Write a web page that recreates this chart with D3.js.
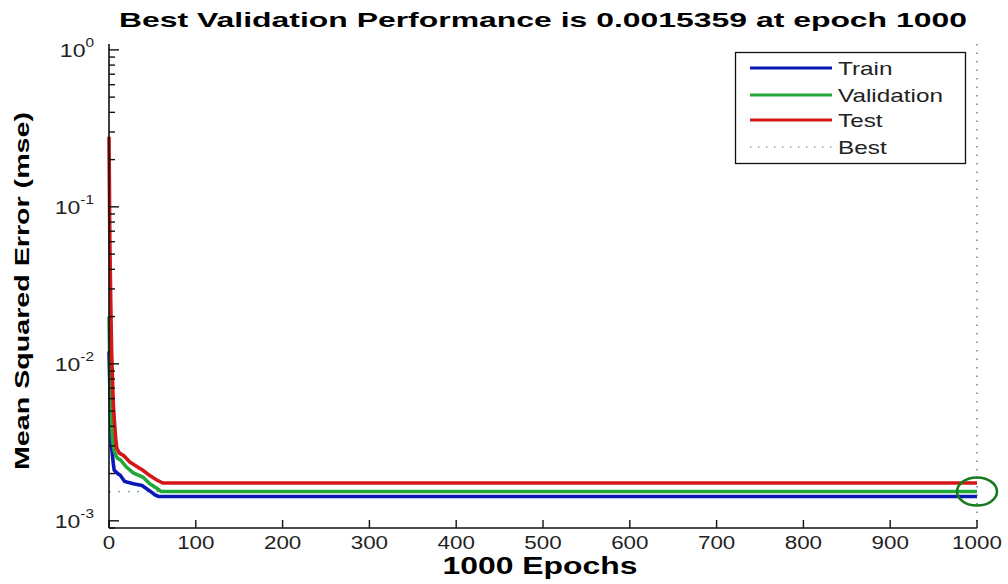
<!DOCTYPE html>
<html><head><meta charset="utf-8">
<script src="https://cdn.jsdelivr.net/npm/d3@7"></script>
<style>
body{margin:0;background:#fff}
svg{display:block}
text{font-family:"Liberation Sans",Arial,sans-serif;fill:#111}
</style>
</head><body>
<svg id="chart" width="1008" height="584"></svg>
<script>
// Labels
const titleText = "Best Validation Performance is 0.0015359 at epoch 1000";
const xLabelText = "1000 Epochs";
const yLabelText = "Mean Squared Error  (mse)";

// Series: epoch -> mean squared error
const seriesNames = ["Train", "Validation", "Test"];
const seriesColors = ["#0a18b8", "#22a83a", "#d41616"];

const trainEpochs = [0, 1, 2, 3, 4, 5, 6, 8, 10, 13, 18, 28, 38, 47, 53, 57, 1000];
const trainMse = [0.012, 0.007, 0.0042, 0.003, 0.0026, 0.0023, 0.0021, 0.00205, 0.002, 0.00195, 0.00178, 0.00172, 0.00168, 0.00155, 0.00146, 0.00143, 0.00143];

const valEpochs = [0, 1, 2, 3, 4, 5, 6, 8, 10, 13, 20, 28, 39, 47, 55, 60, 1000];
const valMse = [0.02, 0.01, 0.006, 0.0041, 0.0033, 0.003, 0.0028, 0.0026, 0.0025, 0.00245, 0.0022, 0.00202, 0.0019, 0.00172, 0.00161, 0.0015359, 0.0015359];

const testEpochs = [0, 1, 2, 3, 4, 5, 6, 7, 8, 9, 12, 17, 24, 32, 39, 47, 55, 62, 1000];
const testMse = [0.28, 0.06, 0.025, 0.012, 0.008, 0.0055, 0.0045, 0.0038, 0.0032, 0.0029, 0.0027, 0.0026, 0.00237, 0.00222, 0.0021, 0.00194, 0.00182, 0.00174, 0.00174];

const bestEpoch = 1000;
const bestPerf = 0.0015359;

// Axes
const xTicks = [0, 100, 200, 300, 400, 500, 600, 700, 800, 900, 1000];
const yDecadeExponents = [-3, -2, -1, 0];
const xDomain = [0, 1000];
const yDomain = [9e-4, 1.09];

const svg = d3.select("#chart");
const plot = {left: 109, right: 977, top: 44, bottom: 528};

const x = d3.scaleLinear().domain(xDomain).range([plot.left, plot.right]);
const y = d3.scaleLog().domain(yDomain).range([plot.bottom, plot.top]);

const TX = 1.28; // horizontal widening of glyphs

// ---- best markers (drawn under the series) ----
svg.append("line")
  .attr("x1", x(xDomain[0])).attr("x2", x(xDomain[1]))
  .attr("y1", y(bestPerf)).attr("y2", y(bestPerf))
  .attr("stroke", "#4a8a80").attr("stroke-width", 1.2)
  .attr("stroke-dasharray", "1.5,8");

// ---- series ----
const line = d3.line().x(d => x(d[0])).y(d => y(d[1]));
const series = [
  d3.zip(trainEpochs, trainMse),
  d3.zip(valEpochs, valMse),
  d3.zip(testEpochs, testMse)
];
series.forEach((s, i) => {
  svg.append("path").datum(s)
    .attr("d", line)
    .attr("fill", "none")
    .attr("stroke", seriesColors[i])
    .attr("stroke-width", 3.6)
    .attr("stroke-linejoin", "miter");
});

svg.append("line")
  .attr("x1", x(bestEpoch)).attr("x2", x(bestEpoch))
  .attr("y1", y(yDomain[1])).attr("y2", y(yDomain[0]))
  .attr("stroke", "#5a6a70").attr("stroke-width", 1.3)
  .attr("stroke-dasharray", "1.5,7");

svg.append("ellipse")
  .attr("cx", x(bestEpoch)).attr("cy", y(bestPerf))
  .attr("rx", 20).attr("ry", 14)
  .attr("fill", "none").attr("stroke", "#167a1e").attr("stroke-width", 2.6);

// ---- axes ----
const axisColor = "#111";
svg.append("line")
  .attr("x1", plot.left).attr("x2", plot.left)
  .attr("y1", plot.top).attr("y2", plot.bottom)
  .attr("stroke", axisColor).attr("stroke-width", 1.6);
svg.append("line")
  .attr("x1", plot.left).attr("x2", plot.right)
  .attr("y1", plot.bottom).attr("y2", plot.bottom)
  .attr("stroke", axisColor).attr("stroke-width", 1.6);

// x ticks (inward) and labels
xTicks.forEach(t => {
  svg.append("line")
    .attr("x1", x(t)).attr("x2", x(t))
    .attr("y1", plot.bottom).attr("y2", plot.bottom - 8)
    .attr("stroke", axisColor).attr("stroke-width", 1.4);
  svg.append("text")
    .attr("transform", `translate(${x(t)},549) scale(${TX},1)`)
    .attr("text-anchor", "middle")
    .style("font-size", "17.5px").style("fill", "#222")
    .text(t);
});

// y ticks: decades (major) and 2..9 (minor)
const [lo, hi] = yDomain;
for (let e = -4; e <= 0; e++) {
  for (let m = 1; m <= 9; m++) {
    const v = m * Math.pow(10, e);
    if (v < lo || v > hi) continue;
    svg.append("line")
      .attr("x1", plot.left).attr("x2", plot.left + (m === 1 ? 10 : 6))
      .attr("y1", y(v)).attr("y2", y(v))
      .attr("stroke", axisColor).attr("stroke-width", 1.4);
  }
}
yDecadeExponents.forEach(e => {
  const t = svg.append("text")
    .attr("transform", `translate(94,${y(Math.pow(10, e)) + 7}) scale(${TX},1)`)
    .attr("text-anchor", "end")
    .style("font-size", "18px").style("fill", "#222");
  t.append("tspan").text("10");
  t.append("tspan").attr("dy", -10).style("font-size", "12px").text(e === 0 ? "0" : "-" + (-e));
});

// ---- titles ----
svg.append("text")
  .attr("x", (plot.left + plot.right) / 2).attr("y", 27)
  .attr("text-anchor", "middle")
  .attr("textLength", 848).attr("lengthAdjust", "spacingAndGlyphs")
  .style("font-size", "21px").style("font-weight", "bold").style("fill", "#000")
  .text(titleText);

svg.append("text")
  .attr("x", 540).attr("y", 574)
  .attr("text-anchor", "middle")
  .attr("textLength", 195).attr("lengthAdjust", "spacingAndGlyphs")
  .style("font-size", "23px").style("font-weight", "bold").style("fill", "#000")
  .text(xLabelText);

svg.append("text")
  .attr("transform", "translate(29,291) rotate(-90)")
  .attr("text-anchor", "middle")
  .attr("textLength", 358).attr("lengthAdjust", "spacingAndGlyphs")
  .style("font-size", "21px").style("font-weight", "bold").style("fill", "#000")
  .text(yLabelText);

// ---- legend ----
const legend = svg.append("g");
legend.append("rect")
  .attr("x", 735.5).attr("y", 52.5).attr("width", 230).attr("height", 111)
  .attr("fill", "#fff").attr("stroke", "#111").attr("stroke-width", 1.3);
const legendNames = seriesNames.concat(["Best"]);
const legendY = [68, 95, 120, 147];
legendNames.forEach((name, i) => {
  const ln = legend.append("line")
    .attr("x1", 750).attr("x2", 832)
    .attr("y1", legendY[i]).attr("y2", legendY[i]);
  if (i < 3) {
    ln.attr("stroke", seriesColors[i]).attr("stroke-width", 3);
  } else {
    ln.attr("stroke", "#5a6a70").attr("stroke-width", 1.2).attr("stroke-dasharray", "1.5,6.5");
  }
  legend.append("text")
    .attr("transform", `translate(838,${legendY[i] + 7}) scale(${TX},1)`)
    .style("font-size", "19px").style("fill", "#222")
    .text(name);
});
</script>
</body></html>
